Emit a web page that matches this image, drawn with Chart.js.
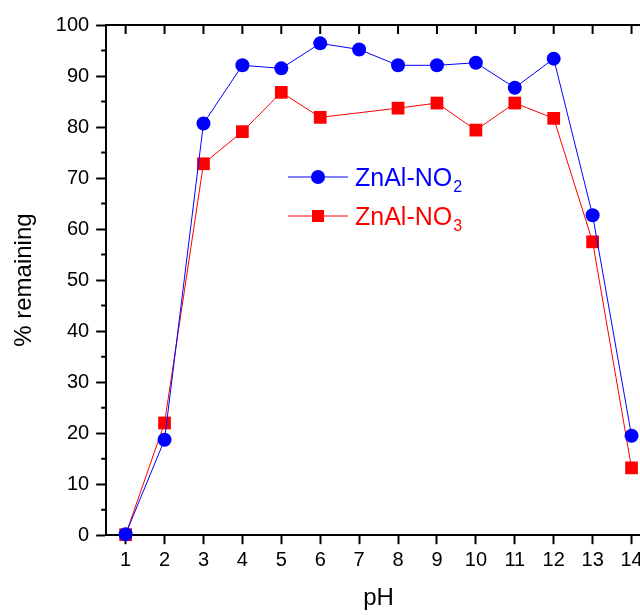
<!DOCTYPE html>
<html>
<head>
<meta charset="utf-8">
<script src="https://cdn.jsdelivr.net/npm/chart.js@4.4.1/dist/chart.umd.min.js"></script>
<style>
  html, body { margin: 0; padding: 0; background: #fff; overflow: hidden; }
  #wrap { width: 640px; height: 615px; overflow: hidden; }
</style>
</head>
<body>
<div id="wrap"><canvas id="chart" width="660" height="615"></canvas></div>
<script>
// pH values and % remaining
var phNO2 = [1, 2, 3, 4, 5, 6, 7, 8, 9, 10, 11, 12, 13, 14];
var remainNO2 = [0.2, 18.7, 80.7, 92.1, 91.5, 96.4, 95.2, 92.1, 92.1, 92.6, 87.7, 93.4, 62.7, 19.5];
var phNO3 = [1, 2, 3, 4, 5, 6, 8, 9, 10, 11, 12, 13, 14];
var remainNO3 = [0.1, 22.0, 72.8, 79.1, 86.8, 81.9, 83.7, 84.7, 79.4, 84.7, 81.7, 57.5, 13.2];
var xTicks = [1, 2, 3, 4, 5, 6, 7, 8, 9, 10, 11, 12, 13, 14];
var yMinorTicks = [5, 15, 25, 35, 45, 55, 65, 75, 85, 95];

var FONT = "'Liberation Sans', Arial, sans-serif";

function toPoints(xs, ys) {
    return xs.map(function (x, i) { return { x: x, y: ys[i] }; });
}

// frame: top/right border, inward ticks, minor y ticks, legend with subscripts
var framePlugin = {
    id: 'frame',
    afterDraw: function (chart) {
        var ctx = chart.ctx;
        var a = chart.chartArea;
        var xs = chart.scales.x, ys = chart.scales.y;
        ctx.save();
        ctx.strokeStyle = '#000';
        ctx.lineWidth = 2;
        ctx.beginPath();
        ctx.moveTo(a.left - 1, a.top);
        ctx.lineTo(a.right, a.top);
        ctx.lineTo(a.right, a.bottom);
        ctx.stroke();
        ctx.beginPath();
        xTicks.forEach(function (v) {
            var px = xs.getPixelForValue(v);
            ctx.moveTo(px, a.top);
            ctx.lineTo(px, a.top + 9);
        });
        for (var v = 10; v < 100; v += 10) {
            var py = ys.getPixelForValue(v);
            ctx.moveTo(a.right, py);
            ctx.lineTo(a.right - 9, py);
        }
        yMinorTicks.forEach(function (m) {
            var py = ys.getPixelForValue(m);
            ctx.moveTo(a.left, py);
            ctx.lineTo(a.left - 5, py);
            ctx.moveTo(a.right, py);
            ctx.lineTo(a.right - 5, py);
        });
        ctx.stroke();

        // legend
        var rows = [
            { ds: chart.data.datasets[0], main: 'ZnAl-NO', sub: '2', y: 177 },
            { ds: chart.data.datasets[1], main: 'ZnAl-NO', sub: '3', y: 216 }
        ];
        rows.forEach(function (r) {
            ctx.strokeStyle = r.ds.borderColor;
            ctx.lineWidth = 1;
            ctx.beginPath();
            ctx.moveTo(288, r.y);
            ctx.lineTo(348, r.y);
            ctx.stroke();
            ctx.fillStyle = r.ds.backgroundColor;
            if (r.ds.pointStyle === 'rect') {
                ctx.fillRect(318 - 6, r.y - 6, 12, 12);
            } else {
                ctx.beginPath();
                ctx.arc(318, r.y, 7, 0, Math.PI * 2);
                ctx.fill();
            }
            ctx.fillStyle = r.ds.borderColor;
            ctx.textBaseline = 'alphabetic';
            ctx.font = '25px ' + FONT;
            ctx.fillText(r.main, 355, r.y + 9);
            var w = ctx.measureText(r.main).width;
            ctx.font = '16px ' + FONT;
            ctx.fillText(r.sub, 355 + w + 1, r.y + 15);
        });
        ctx.restore();
    }
};

new Chart(document.getElementById('chart'), {
    type: 'line',
    data: {
        datasets: [{
            label: 'ZnAl-NO₂',
            data: toPoints(phNO2, remainNO2),
            borderColor: '#0000ff',
            backgroundColor: '#0000ff',
            borderWidth: 1,
            pointStyle: 'circle',
            pointRadius: 7,
            pointHoverRadius: 7,
            pointBorderWidth: 0,
            tension: 0
        }, {
            label: 'ZnAl-NO₃',
            data: toPoints(phNO3, remainNO3),
            borderColor: '#ff0000',
            backgroundColor: '#ff0000',
            borderWidth: 1,
            pointStyle: 'rect',
            pointRadius: 9,
            pointHoverRadius: 9,
            pointBorderWidth: 0,
            tension: 0
        }]
    },
    options: {
        responsive: false,
        animation: false,
        clip: false,
        layout: { padding: { top: 25, right: 9, left: 10, bottom: 0 } },
        plugins: {
            legend: { display: false },
            tooltip: { enabled: false }
        },
        scales: {
            x: {
                type: 'linear',
                min: 0.5,
                max: 14.5,
                afterBuildTicks: function (scale) {
                    scale.ticks = xTicks.map(function (v) { return { value: v }; });
                },
                grid: { drawOnChartArea: false, tickLength: 9, tickWidth: 2, tickColor: '#000' },
                border: { display: true, width: 2, color: '#000' },
                ticks: { color: '#000', font: { family: FONT, size: 20 }, padding: 4, maxRotation: 0 },
                title: { display: true, text: 'pH', color: '#000', font: { family: FONT, size: 24 }, padding: { top: 8, bottom: 2 } }
            },
            y: {
                min: 0,
                max: 100,
                ticks: { stepSize: 10, color: '#000', font: { family: FONT, size: 20 }, padding: 7, callback: function (v) { return v; } },
                grid: { drawOnChartArea: false, tickLength: 10, tickWidth: 2, tickColor: '#000' },
                border: { display: true, width: 2, color: '#000' },
                title: { display: true, text: '% remaining', color: '#000', font: { family: FONT, size: 24 }, padding: { top: 0, bottom: 10 } }
            }
        }
    },
    plugins: [framePlugin]
});
</script>
</body>
</html>
